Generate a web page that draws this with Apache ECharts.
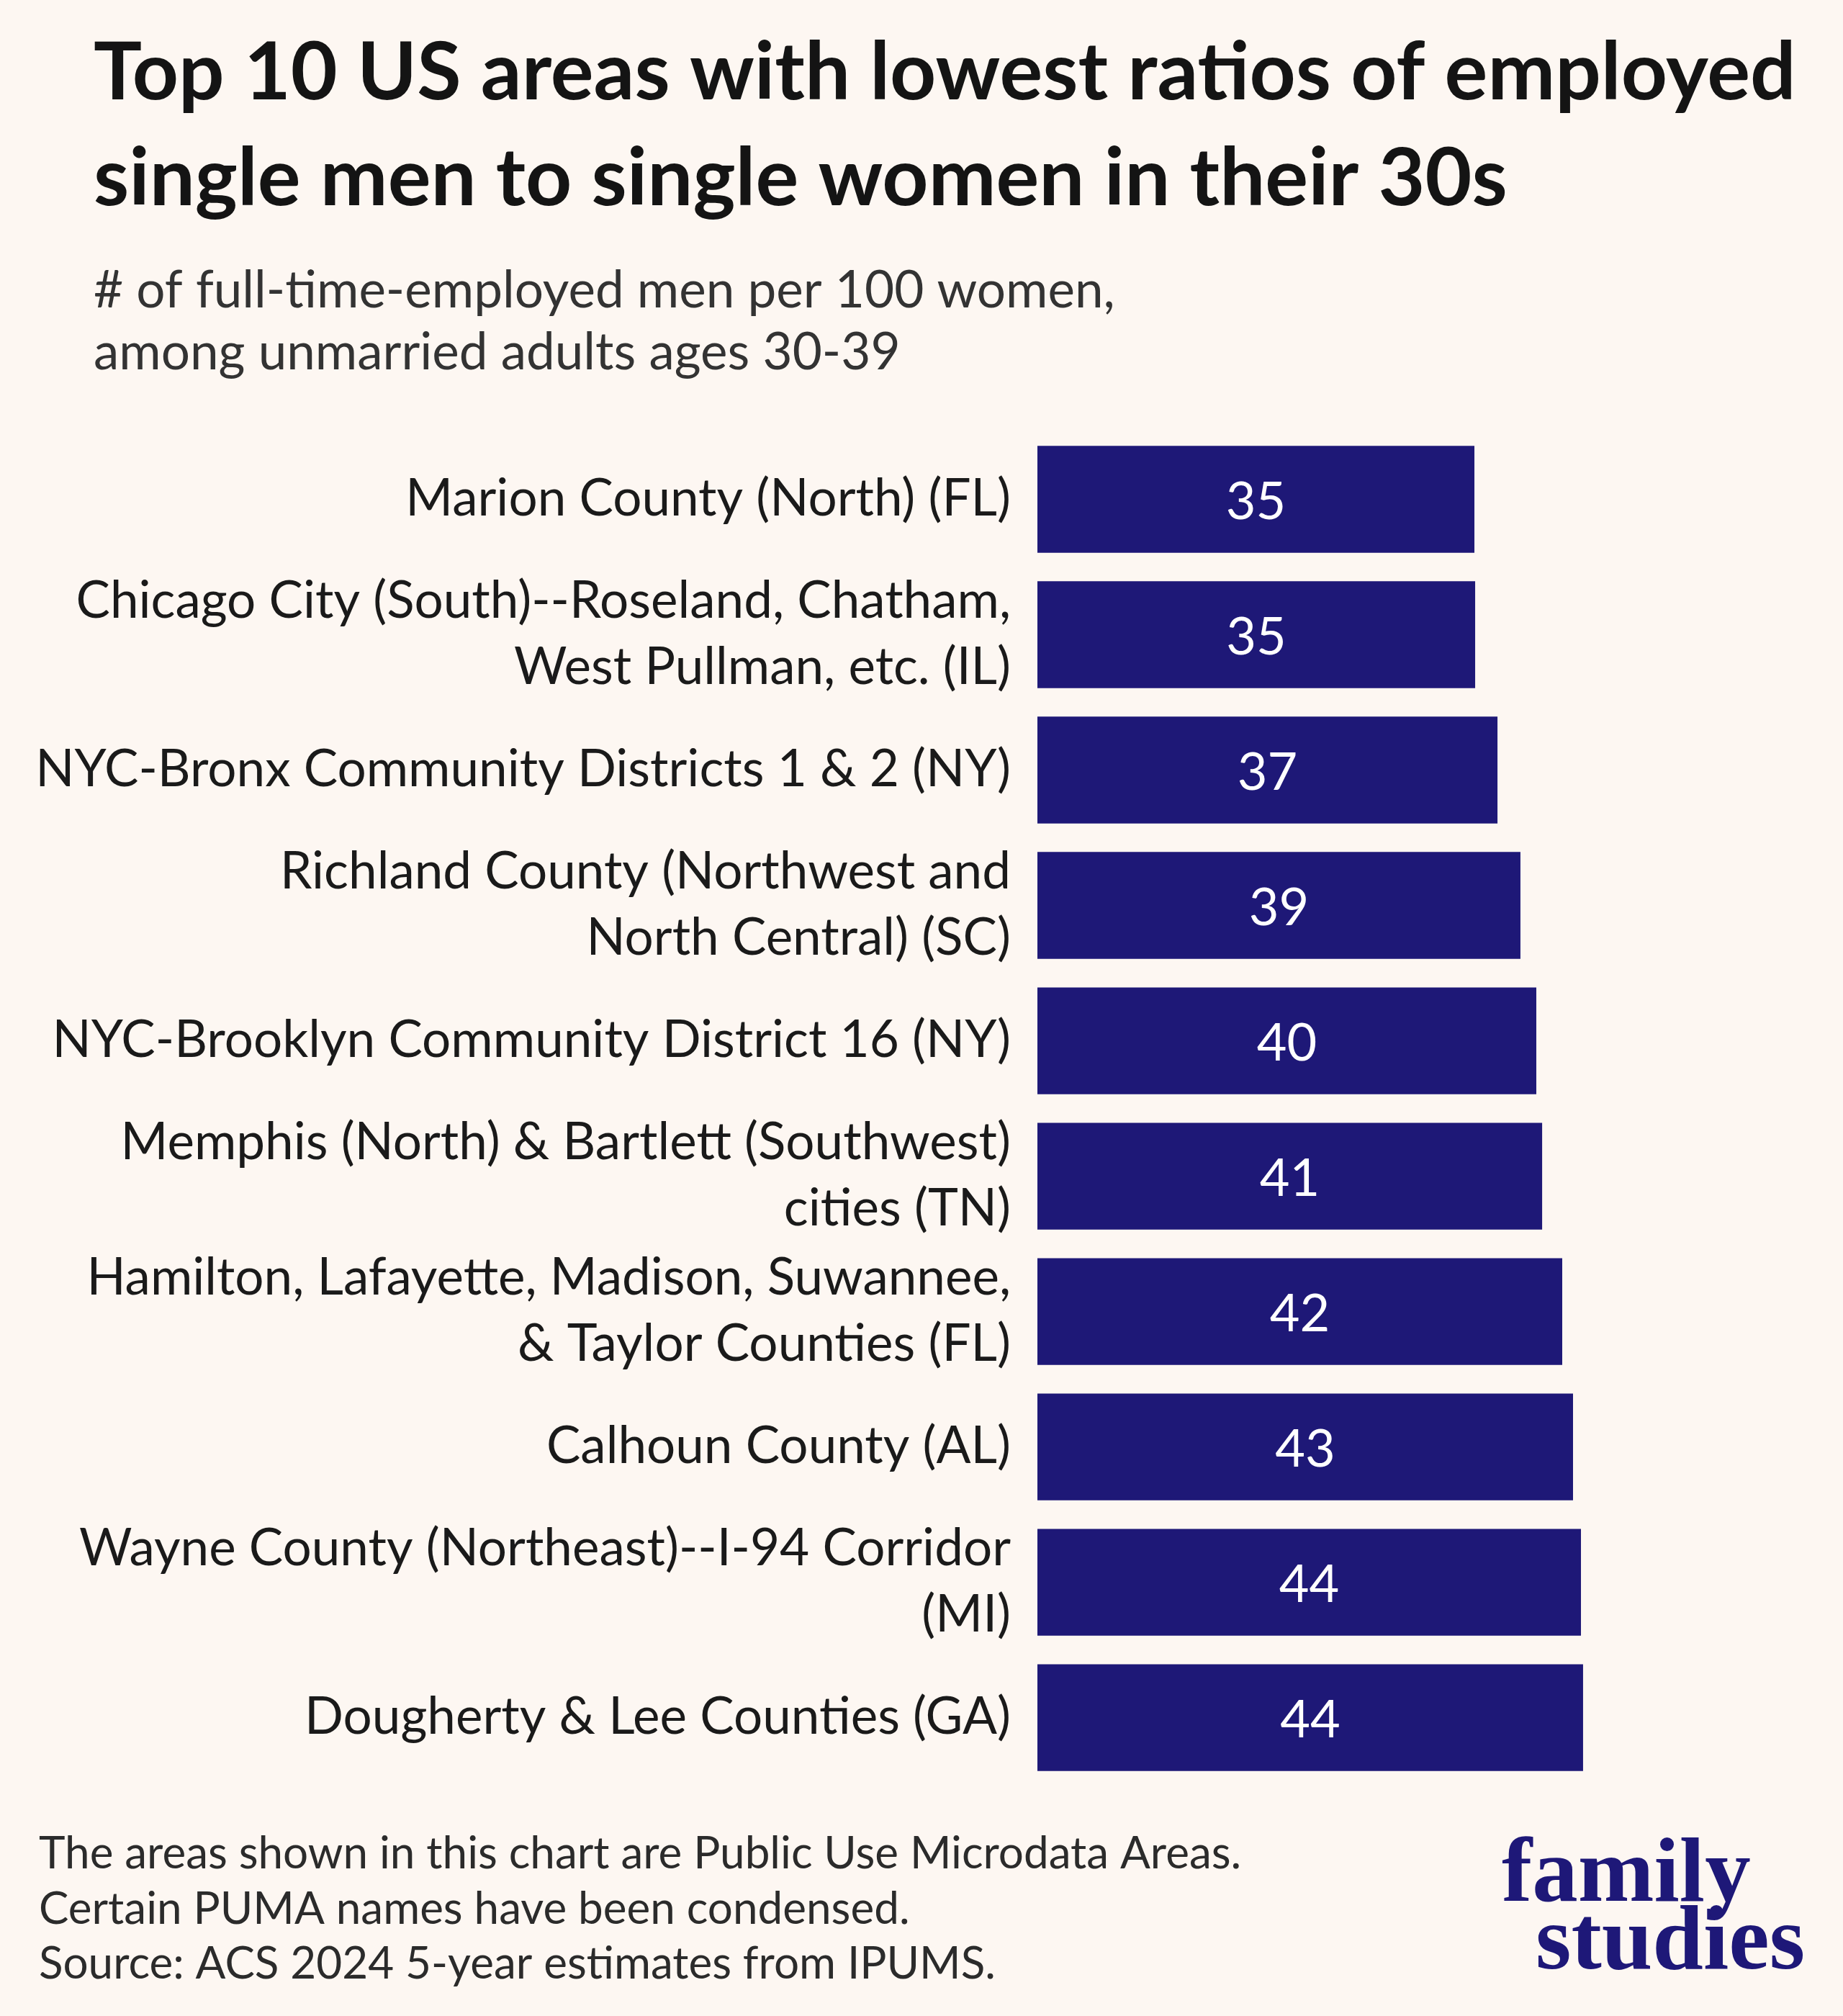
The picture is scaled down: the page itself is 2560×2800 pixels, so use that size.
<!DOCTYPE html>
<html>
<head>
<meta charset="utf-8">
<script src="https://cdn.jsdelivr.net/npm/echarts@6/dist/echarts.min.js"></script>
<style>
html,body{margin:0;padding:0;background:#fdf7f2;}
#c{width:2560px;height:2800px;}
</style>
</head>
<body>
<div id="c"></div>
<script>
const categories = [
  "Marion County (North) (FL)",
  "Chicago City (South)--Roseland, Chatham,\nWest Pullman, etc. (IL)",
  "NYC-Bronx Community Districts 1 & 2 (NY)",
  "Richland County (Northwest and\nNorth Central) (SC)",
  "NYC-Brooklyn Community District 16 (NY)",
  "Memphis (North) & Bartlett (Southwest)\ncities (TN)",
  "Hamilton, Lafayette, Madison, Suwannee,\n& Taylor Counties (FL)",
  "Calhoun County (AL)",
  "Wayne County (Northeast)--I-94 Corridor\n(MI)",
  "Dougherty & Lee Counties (GA)"
];
const values = [35.23, 35.29, 37.09, 38.94, 40.22, 40.69, 42.31, 43.18, 43.82, 43.99];
const titleLines = ["Top 10 US areas with lowest ratios of employed", "single men to single women in their 30s"];
const subtitleLines = ["# of full-time-employed men per 100 women,", "among unmarried adults ages 30-39"];
const footerLines = ["The areas shown in this chart are Public Use Microdata Areas.", "Certain PUMA names have been condensed.", "Source: ACS 2024 5-year estimates from IPUMS."];
const logoLines = ["family", "studies"];

const chart = echarts.init(document.getElementById('c'), null, {renderer: 'canvas'});

const graphics = [];
titleLines.forEach((t, i) => graphics.push({type: 'text', position: [130, [102, 249][i]],
  style: {text: t, font: '700 112px Lato', fill: '#141414', textVerticalAlign: 'middle'}}));
subtitleLines.forEach((t, i) => graphics.push({type: 'text', position: [130, [404, 490][i]],
  style: {text: t, font: '400 71px Lato', fill: '#333333', textVerticalAlign: 'middle'}}));
footerLines.forEach((t, i) => graphics.push({type: 'text', position: [54, [2575, 2652, 2728][i]],
  style: {text: t, font: '400 62px Lato', fill: '#2b2b2b', textVerticalAlign: 'middle'}}));
logoLines.forEach((t, i) => graphics.push({type: 'text', position: [[2086, 2133][i], [2607, 2701][i]],
  style: {text: t, font: '700 127px "Liberation Serif"', fill: '#1e1878', textVerticalAlign: 'middle'}}));

chart.setOption({
  backgroundColor: '#fdf7f2',
  animation: false,
  grid: {left: 1441, right: 257.5, top: 599.5, bottom: 320.4, containLabel: false},
  xAxis: {type: 'value', min: 0, max: 50, show: false},
  yAxis: {
    type: 'category', data: categories, inverse: true,
    axisLine: {show: false}, axisTick: {show: false}, splitLine: {show: false},
    axisLabel: {margin: 37, fontSize: 71, lineHeight: 92, color: '#1a1a1a', fontFamily: 'Lato', align: 'right',
      padding: [6, 0, 0, 0]}
  },
  series: [{
    type: 'bar', data: values, barCategoryGap: '21.1%',
    itemStyle: {color: '#1e1877'},
    label: {show: true, position: 'inside', offset: [0, 4], color: '#ffffff', fontSize: 72, fontFamily: 'Lato',
      formatter: p => Math.round(p.value)}
  }],
  graphic: graphics
});
</script>
</body>
</html>
